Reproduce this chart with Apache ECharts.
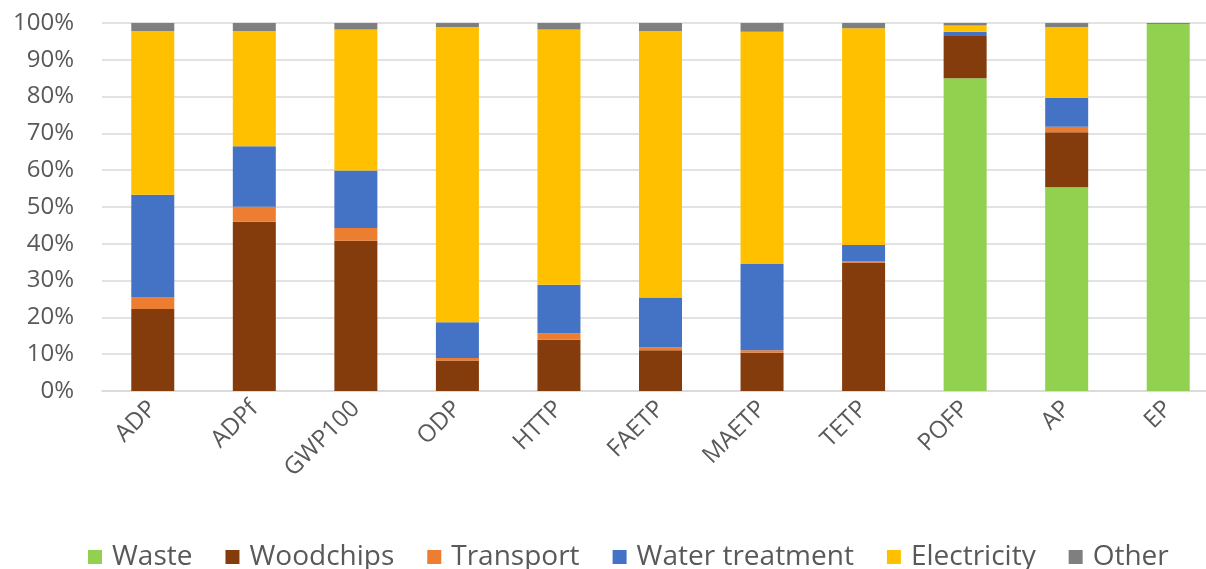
<!DOCTYPE html>
<html><head><meta charset="utf-8">
<script src="https://cdn.jsdelivr.net/npm/echarts@6/dist/echarts.min.js"></script>
<style>html,body{margin:0;padding:0;background:#fff}#c{width:1206px;height:569px}</style>
</head><body><div id="c"></div>
<script>
const categories = ["ADP","ADPf","GWP100","ODP","HTTP","FAETP","MAETP","TETP","POFP","AP","EP"];
const waste          = [0, 0, 0, 0, 0, 0, 0, 0, 85.0, 55.4, 99.7];
const woodchips      = [22.3, 46.0, 40.8, 8.3, 13.9, 11.1, 10.4, 34.9, 11.5, 14.9, 0];
const transport      = [3.1, 4.1, 3.5, 0.7, 1.8, 0.8, 0.7, 0.3, 0, 1.5, 0];
const waterTreatment = [27.9, 16.4, 15.6, 9.7, 13.2, 13.5, 23.4, 4.5, 1.1, 7.9, 0];
const electricity    = [44.5, 31.3, 38.3, 80.2, 69.3, 72.4, 63.1, 58.9, 1.7, 19.2, 0];
const other          = [2.2, 2.2, 1.8, 1.1, 1.8, 2.2, 2.4, 1.4, 0.7, 1.1, 0.3];
const seriesNames = ["Waste","Woodchips","Transport","Water treatment","Electricity","Other"];
const seriesData = [waste, woodchips, transport, waterTreatment, electricity, other];
const colors = ["#92D050","#843C0C","#ED7D31","#4472C4","#FFC000","#7F7F7F"];
const FONT = "Open Sans";
const chart = echarts.init(document.getElementById('c'), null, {renderer:'canvas'});
chart.setOption({
  animation:false,
  color: colors,
  grid:{left:102, top:23, width:1117, height:368, containLabel:false, outerBoundsMode:'none'},
  legend:{
    top:538, left:83,
    itemWidth:14, itemHeight:14, itemGap:33,
    icon:'rect',
    textStyle:{fontFamily:FONT, fontSize:28, color:'#595959', padding:[0,0,0,5]},
    data: seriesNames
  },
  xAxis:{
    type:'category', data:categories,
    axisLine:{lineStyle:{color:'#D9D9D9', width:1.5}},
    axisTick:{show:false},
    axisLabel:{rotate:45, fontFamily:FONT, fontSize:24, color:'#595959', margin:14, interval:0}
  },
  yAxis:{
    type:'value', min:0, max:100, interval:10,
    axisLine:{show:false}, axisTick:{show:false},
    splitLine:{lineStyle:{color:'#D9D9D9', width:1.5}},
    axisLabel:{formatter:'{value}%', fontFamily:FONT, fontSize:24, color:'#595959', margin:28}
  },
  series: seriesNames.map((n,i)=>({
    name:n, type:'bar', stack:'total', data:seriesData[i], barWidth:43
  }))
});
</script></body></html>
